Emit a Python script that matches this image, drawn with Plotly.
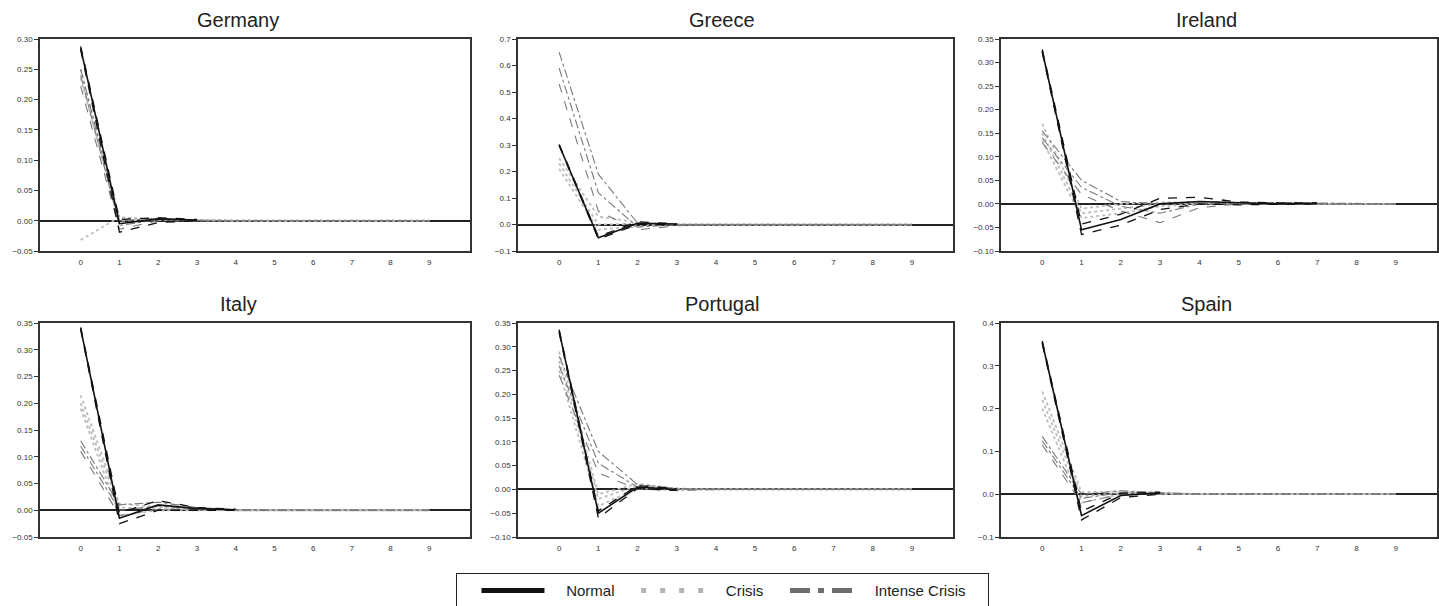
import plotly.graph_objects as go

# ---------------- DATA ----------------
horizon = [0, 1, 2, 3, 4, 5, 6, 7, 8, 9]
countries = ["Germany", "Greece", "Ireland", "Italy", "Portugal", "Spain"]

# Germany
germany_normal     = [0.285, -0.005, 0.003, 0.001, None, None, None, None, None, None]
germany_normal_lo  = [0.282, -0.019, -0.003, 0.000, None, None, None, None, None, None]
germany_normal_hi  = [0.288, 0.002, 0.005, 0.002, None, None, None, None, None, None]
germany_crisis     = [0.235, 0.000, 0.002, 0.001, 0.000, 0.000, 0.000, 0.000, 0.000, 0.000]
germany_crisis_lo  = [-0.032, 0.006, 0.001, 0.000, 0.000, 0.000, 0.000, 0.000, 0.000, 0.000]
germany_crisis_hi  = [0.250, 0.005, 0.003, 0.001, 0.000, 0.000, 0.000, 0.000, 0.000, 0.000]
germany_intense    = [0.240, -0.008, 0.002, 0.000, 0.000, 0.000, 0.000, 0.000, 0.000, 0.000]
germany_intense_lo = [0.222, -0.014, 0.000, 0.000, 0.000, 0.000, 0.000, 0.000, 0.000, 0.000]
germany_intense_hi = [0.250, 0.000, 0.004, 0.001, 0.000, 0.000, 0.000, 0.000, 0.000, 0.000]

# Greece
greece_normal     = [0.300, -0.050, 0.005, 0.002, None, None, None, None, None, None]
greece_normal_lo  = [0.298, -0.055, 0.000, 0.000, None, None, None, None, None, None]
greece_normal_hi  = [0.302, -0.045, 0.010, 0.003, None, None, None, None, None, None]
greece_crisis     = [0.230, 0.000, 0.002, 0.000, 0.000, 0.000, 0.000, 0.000, 0.000, 0.000]
greece_crisis_lo  = [0.210, -0.020, -0.005, 0.000, 0.000, 0.000, 0.000, 0.000, 0.000, 0.000]
greece_crisis_hi  = [0.250, 0.030, 0.008, 0.000, 0.000, 0.000, 0.000, 0.000, 0.000, 0.000]
greece_intense    = [0.590, 0.120, -0.010, 0.000, 0.000, 0.000, 0.000, 0.000, 0.000, 0.000]
greece_intense_lo = [0.530, 0.050, -0.020, -0.005, 0.000, 0.000, 0.000, 0.000, 0.000, 0.000]
greece_intense_hi = [0.650, 0.190, 0.005, 0.000, 0.000, 0.000, 0.000, 0.000, 0.000, 0.000]

# Ireland
ireland_normal     = [0.325, -0.055, -0.033, 0.000, 0.005, 0.002, 0.000, 0.001, None, None]
ireland_normal_lo  = [0.322, -0.065, -0.045, -0.012, 0.000, -0.002, -0.001, 0.000, None, None]
ireland_normal_hi  = [0.328, -0.043, -0.022, 0.012, 0.014, 0.004, 0.002, 0.002, None, None]
ireland_crisis     = [0.150, -0.020, -0.010, 0.000, 0.002, 0.000, 0.000, 0.000, 0.000, 0.000]
ireland_crisis_lo  = [0.135, -0.030, -0.020, -0.005, 0.000, 0.000, 0.000, 0.000, 0.000, 0.000]
ireland_crisis_hi  = [0.170, -0.010, 0.000, 0.003, 0.003, 0.001, 0.000, 0.000, 0.000, 0.000]
ireland_intense    = [0.140, 0.035, -0.005, -0.020, 0.000, 0.002, 0.002, 0.000, 0.000, 0.000]
ireland_intense_lo = [0.130, 0.020, -0.015, -0.040, -0.008, 0.000, 0.000, 0.000, 0.000, 0.000]
ireland_intense_hi = [0.155, 0.050, 0.005, 0.000, 0.005, 0.003, 0.003, 0.002, 0.000, 0.000]

# Italy
italy_normal     = [0.340, -0.015, 0.010, 0.003, 0.001, None, None, None, None, None]
italy_normal_lo  = [0.338, -0.025, 0.000, 0.000, 0.000, None, None, None, None, None]
italy_normal_hi  = [0.342, -0.005, 0.018, 0.005, 0.002, None, None, None, None, None]
italy_crisis     = [0.200, 0.005, 0.003, 0.001, 0.000, 0.000, 0.000, 0.000, 0.000, 0.000]
italy_crisis_lo  = [0.190, -0.010, 0.000, 0.000, 0.000, 0.000, 0.000, 0.000, 0.000, 0.000]
italy_crisis_hi  = [0.215, 0.012, 0.006, 0.002, 0.000, 0.000, 0.000, 0.000, 0.000, 0.000]
italy_intense    = [0.120, 0.000, 0.008, 0.003, 0.000, 0.000, 0.000, 0.000, 0.000, 0.000]
italy_intense_lo = [0.110, -0.010, 0.002, 0.001, 0.000, 0.000, 0.000, 0.000, 0.000, 0.000]
italy_intense_hi = [0.130, 0.010, 0.015, 0.005, 0.001, 0.000, 0.000, 0.000, 0.000, 0.000]

# Portugal
portugal_normal     = [0.333, -0.050, 0.005, 0.000, None, None, None, None, None, None]
portugal_normal_lo  = [0.330, -0.060, 0.002, -0.002, None, None, None, None, None, None]
portugal_normal_hi  = [0.336, -0.045, 0.008, 0.002, None, None, None, None, None, None]
portugal_crisis     = [0.270, -0.020, 0.008, 0.000, 0.000, 0.000, 0.000, 0.000, 0.000, 0.000]
portugal_crisis_lo  = [0.250, -0.035, 0.003, -0.002, 0.000, 0.000, 0.000, 0.000, 0.000, 0.000]
portugal_crisis_hi  = [0.290, -0.010, 0.012, 0.002, 0.000, 0.000, 0.000, 0.000, 0.000, 0.000]
portugal_intense    = [0.260, 0.055, 0.005, 0.000, 0.000, 0.000, 0.000, 0.000, 0.000, 0.000]
portugal_intense_lo = [0.240, 0.035, 0.000, -0.002, 0.000, 0.000, 0.000, 0.000, 0.000, 0.000]
portugal_intense_hi = [0.280, 0.080, 0.010, 0.002, 0.000, 0.000, 0.000, 0.000, 0.000, 0.000]

# Spain
spain_normal     = [0.355, -0.050, -0.003, 0.003, None, None, None, None, None, None]
spain_normal_lo  = [0.352, -0.060, -0.008, 0.000, None, None, None, None, None, None]
spain_normal_hi  = [0.358, -0.040, 0.002, 0.005, None, None, None, None, None, None]
spain_crisis     = [0.220, -0.005, 0.003, 0.002, 0.000, 0.000, 0.000, 0.000, 0.000, 0.000]
spain_crisis_lo  = [0.200, -0.020, 0.000, 0.000, 0.000, 0.000, 0.000, 0.000, 0.000, 0.000]
spain_crisis_hi  = [0.240, 0.005, 0.006, 0.003, 0.000, 0.000, 0.000, 0.000, 0.000, 0.000]
spain_intense    = [0.125, -0.010, 0.004, 0.002, 0.000, 0.000, 0.000, 0.000, 0.000, 0.000]
spain_intense_lo = [0.115, -0.020, 0.000, 0.000, 0.000, 0.000, 0.000, 0.000, 0.000, 0.000]
spain_intense_hi = [0.135, 0.000, 0.008, 0.004, 0.000, 0.000, 0.000, 0.000, 0.000, 0.000]

# y axis ranges / tick steps / formats
y_ranges = [[-0.05, 0.30], [-0.1, 0.7], [-0.10, 0.35], [-0.05, 0.35], [-0.10, 0.35], [-0.1, 0.4]]
y_dtick = [0.05, 0.1, 0.05, 0.05, 0.05, 0.1]
y_fmt = [".2f", ".1f", ".2f", ".2f", ".2f", ".1f"]
legend_names = ["Normal", "Crisis", "Intense Crisis"]

series = {
    "Germany": (germany_normal, germany_normal_lo, germany_normal_hi, germany_crisis, germany_crisis_lo,
                germany_crisis_hi, germany_intense, germany_intense_lo, germany_intense_hi),
    "Greece": (greece_normal, greece_normal_lo, greece_normal_hi, greece_crisis, greece_crisis_lo,
               greece_crisis_hi, greece_intense, greece_intense_lo, greece_intense_hi),
    "Ireland": (ireland_normal, ireland_normal_lo, ireland_normal_hi, ireland_crisis, ireland_crisis_lo,
                ireland_crisis_hi, ireland_intense, ireland_intense_lo, ireland_intense_hi),
    "Italy": (italy_normal, italy_normal_lo, italy_normal_hi, italy_crisis, italy_crisis_lo,
              italy_crisis_hi, italy_intense, italy_intense_lo, italy_intense_hi),
    "Portugal": (portugal_normal, portugal_normal_lo, portugal_normal_hi, portugal_crisis, portugal_crisis_lo,
                 portugal_crisis_hi, portugal_intense, portugal_intense_lo, portugal_intense_hi),
    "Spain": (spain_normal, spain_normal_lo, spain_normal_hi, spain_crisis, spain_crisis_lo,
              spain_crisis_hi, spain_intense, spain_intense_lo, spain_intense_hi),
}

# ---------------- LAYOUT ----------------
W, H = 1439, 606
FONT = "Liberation Sans, Arial, sans-serif"
col_px = [(40, 470), (518, 953), (1001, 1437)]
row_px = [(39, 251), (323, 537)]
title_x_px = [238, 722, 1206]
title_y_px = [20, 304]

C_NORMAL = "#111111"
C_CRISIS = "#bcbcbc"
C_INTENSE = "#7a7a7a"
NBSP = "\u00a0"

fig = go.Figure()
layout = dict(
    width=W, height=H,
    margin=dict(l=0, r=0, t=0, b=0, autoexpand=False),
    paper_bgcolor="white", plot_bgcolor="white",
    font=dict(family=FONT, color="#222"),
    showlegend=True,
    legend=dict(
        orientation="h", x=456 / W, xanchor="left", y=1 - 573 / H, yanchor="top",
        bordercolor="#222", borderwidth=1.3, bgcolor="white",
        font=dict(size=15, family=FONT, color="#222"),
        itemwidth=63,
        title=dict(text=NBSP * 3, side="left", font=dict(size=11)),
        traceorder="normal",
    ),
)
annotations = []

for i, c in enumerate(countries):
    r, col = divmod(i, 3)
    ax = "" if i == 0 else str(i + 1)
    xref, yref = "x" + ax, "y" + ax
    (n, nlo, nhi, cr, crlo, crhi, it, itlo, ithi) = series[c]

    def add(y, color, dash, width):
        fig.add_trace(go.Scatter(x=horizon, y=y, mode="lines", xaxis=xref, yaxis=yref,
                                 line=dict(color=color, dash=dash, width=width),
                                 showlegend=False, hoverinfo="skip"))

    # crisis (light dotted)
    add(crlo, C_CRISIS, "dot", 1.8)
    add(crhi, C_CRISIS, "dot", 1.8)
    add(cr, C_CRISIS, "dot", 1.8)
    # intense crisis (gray dash / dash-dot)
    add(itlo, C_INTENSE, "dash", 1.1)
    add(ithi, C_INTENSE, "dashdot", 1.1)
    add(it, C_INTENSE, "dashdot", 1.1)
    # normal (black)
    add(nlo, C_NORMAL, "dash", 1.3)
    add(nhi, C_NORMAL, "dash", 1.3)
    add(n, C_NORMAL, "solid", 1.6)

    x0, x1 = col_px[col]
    y0, y1 = row_px[r]
    layout["xaxis" + ax] = dict(
        domain=[x0 / W, x1 / W], anchor=yref, range=[-1.05, 10.05],
        tickmode="array", tickvals=horizon, ticktext=[str(h) for h in horizon],
        ticks="", ticklabelstandoff=3,
        tickfont=dict(size=8, color="#333"),
        showgrid=False, zeroline=False,
        showline=True, mirror=True, linecolor="#333", linewidth=1.5,
        fixedrange=True,
    )
    layout["yaxis" + ax] = dict(
        domain=[1 - y1 / H, 1 - y0 / H], anchor=xref, range=y_ranges[i],
        dtick=y_dtick[i], tick0=0, tickformat=y_fmt[i],
        ticks="outside", ticklen=4, tickcolor="#333",
        tickfont=dict(size=8, color="#333"),
        showgrid=False, zeroline=True, zerolinecolor="#222", zerolinewidth=1.5,
        showline=True, mirror=True, linecolor="#333", linewidth=1.5,
        fixedrange=True,
    )
    annotations.append(dict(
        text=c, x=title_x_px[col] / W, y=1 - title_y_px[r] / H, xref="paper", yref="paper",
        xanchor="center", yanchor="middle", showarrow=False,
        font=dict(size=20, family=FONT, color="#222"),
    ))

# legend entries (leading / trailing non-breaking spaces set the gaps)
for name, color, dash, width in [(legend_names[0], C_NORMAL, "solid", 5),
                                 (legend_names[1], "#b4b4b4", "5px,14px", 5),
                                 (legend_names[2], "#6e6e6e", "20px,8px,6px,8px", 5)]:
    fig.add_trace(go.Scatter(x=[None], y=[None], mode="lines", name=NBSP * 4 + name + NBSP * 4,
                             line=dict(color=color, dash=dash, width=width),
                             showlegend=True))

layout["annotations"] = annotations
fig.update_layout(**layout)
fig.write_html("out.html", config={"displayModeBar": False},
               post_script="document.body.style.margin='0';document.body.style.overflow='hidden';")
